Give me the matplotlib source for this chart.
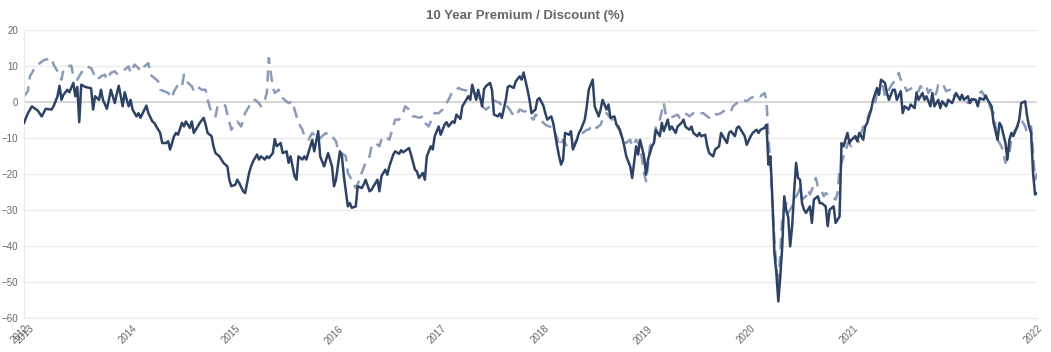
import numpy as np
import pandas as pd
import matplotlib
matplotlib.use("Agg")
import matplotlib.pyplot as plt
import matplotlib.dates as mdates

# weekly observations, counted in weeks from the first data point
start_date = "2012-12-14"

price_weeks = [
    0, 2, 4, 7, 9, 11, 14, 15, 17, 18, 19, 20, 22, 23, 25, 26, 27, 28, 29, 31,
    34, 35, 36, 38, 39, 40, 42, 43, 44, 46, 47, 48, 50, 51, 53, 54, 55, 57, 58, 59,
    61, 62, 63, 65, 66, 67, 69, 70, 72, 73, 74, 76, 77, 78, 80, 81, 82, 84, 85, 86,
    88, 89, 91, 92, 93, 95, 96, 97, 99, 100, 101, 103, 104, 105, 107, 108, 109, 111, 112, 114,
    115, 116, 118, 119, 120, 122, 123, 124, 126, 127, 128, 130, 131, 133, 134, 135, 137, 138, 139, 141,
    142, 143, 145, 146, 147, 149, 150, 152, 153, 154, 156, 157, 158, 160, 161, 162, 164, 165, 166, 168,
    169, 171, 172, 173, 175, 176, 177, 179, 180, 181, 183, 184, 185, 187, 188, 190, 191, 192, 194, 195,
    196, 198, 199, 200, 202, 203, 204, 206, 207, 208, 210, 211, 213, 214, 215, 217, 218, 219, 221, 222,
    223, 225, 226, 227, 229, 230, 232, 233, 234, 236, 237, 238, 240, 241, 242, 244, 245, 246, 248, 249,
    251, 252, 253, 255, 256, 257, 259, 260, 261, 263, 264, 265, 267, 268, 270, 271, 272, 273, 274, 276,
    277, 278, 280, 281, 282, 284, 285, 286, 288, 289, 291, 292, 293, 295, 296, 297, 299, 300, 301, 303,
    304, 305, 307, 308, 310, 311, 312, 314, 315, 316, 318, 319, 320, 322, 323, 324, 326, 327, 328, 330,
    331, 333, 334, 335, 337, 338, 339, 341, 342, 343, 345, 346, 347, 349, 350, 352, 353, 354, 356, 357,
    358, 360, 361, 362, 364, 365, 366, 368, 369, 371, 372, 373, 375, 376, 377, 378, 379, 380, 381, 382,
    383, 384, 385, 386, 387, 388, 389, 390, 391, 392, 393, 394, 395, 396, 398, 399, 400, 402, 403, 404,
    406, 407, 408, 410, 411, 413, 414, 415, 417, 418, 419, 421, 422, 423, 425, 426, 427, 429, 430, 432,
    433, 434, 436, 437, 438, 440, 441, 442, 444, 445, 446, 448, 449, 451, 452, 453, 455, 456, 457, 459,
    460, 461, 463, 464, 465, 467, 468, 470, 471, 472, 474, 475, 476, 478, 479, 480, 482, 483, 484, 486,
    487, 488, 490, 491, 493, 494, 495, 497, 498, 499, 500, 501, 503, 504, 505, 507, 508, 509, 510, 511,
    512, 513,
]
price_disc = [
    -5.8, -3.1, -1.2, -2.4, -4.0, -1.9, -2.1, -1.2, 1.6, 4.5, 0.6, 2.0, 3.4, 2.7, 5.3, 1.6, 4.2, -5.6, 4.8, 4.2,
    3.8, -2.1, 1.6, 0.6, 3.4, 0.6, -1.9, 0.6, 3.4, -0.3, 2.3, 4.5, -1.2, 2.7, -1.2, 0.6, -2.1, -4.0, -3.1, -4.4,
    -2.1, -1.0, -3.1, -5.4, -5.8, -6.8, -8.6, -11.4, -11.4, -10.9, -13.2, -9.5, -8.6, -9.1, -5.8, -6.8, -5.4, -7.2, -5.4, -8.6,
    -6.8, -5.8, -4.4, -6.3, -8.6, -9.5, -12.4, -14.2, -15.1, -16.0, -16.9, -17.9, -21.6, -23.4, -23.0, -21.6, -22.5, -24.8, -25.3, -19.7,
    -17.9, -16.5, -14.6, -16.0, -15.1, -16.0, -15.1, -15.6, -14.2, -10.3, -12.3, -11.4, -14.2, -13.7, -16.9, -15.1, -20.6, -21.6, -15.1, -16.0,
    -15.1, -16.0, -12.3, -10.5, -13.7, -8.1, -15.1, -17.9, -16.0, -14.2, -17.9, -23.4, -21.6, -13.7, -15.1, -20.6, -29.0, -28.1, -29.4, -29.0,
    -23.4, -23.9, -23.0, -21.6, -24.8, -24.4, -23.4, -21.6, -24.8, -20.6, -18.8, -20.2, -17.9, -14.6, -13.7, -14.4, -13.4, -14.0, -13.2, -12.8,
    -14.6, -18.8, -19.3, -21.1, -19.7, -21.6, -15.1, -12.3, -13.2, -9.5, -6.8, -9.1, -6.3, -5.6, -6.8, -5.4, -5.8, -3.5, -4.7, -1.2,
    -0.3, 1.6, 0.6, 4.8, 0.6, 3.4, -1.2, 3.6, 4.4, 5.3, 3.4, -3.5, -4.0, -3.2, -4.4, 0.6, 4.2, 4.5, 3.9, 5.7,
    7.1, 6.2, 8.2, 3.4, 0.6, -3.1, -2.1, 0.6, 1.1, -1.0, -3.1, -4.9, -4.0, -5.8, -12.3, -15.1, -17.4, -16.0, -8.6, -9.1,
    -8.1, -13.2, -10.5, -8.6, -7.7, -4.9, -1.2, 3.4, 6.2, -1.2, -4.0, -2.1, 0.6, -2.1, -0.7, -4.4, -4.0, -6.3, -6.8, -10.0,
    -12.3, -15.1, -17.9, -21.1, -12.3, -14.6, -10.5, -15.1, -20.2, -16.0, -12.3, -11.4, -7.7, -9.5, -5.8, -8.1, -4.9, -7.7, -6.8, -8.6,
    -6.8, -5.8, -4.9, -6.9, -7.7, -6.8, -8.6, -9.5, -8.6, -9.5, -9.1, -12.3, -14.2, -15.1, -13.2, -12.3, -8.6, -9.5, -11.4, -8.6,
    -8.1, -9.5, -7.2, -6.8, -8.6, -9.5, -11.9, -9.5, -8.6, -7.7, -8.6, -7.7, -7.2, -6.3, -17.4, -15.1, -27.1, -41.9, -47.5, -55.4,
    -48.4, -40.0, -26.2, -30.0, -32.0, -40.1, -34.5, -25.0, -16.9, -21.1, -21.6, -28.1, -29.9, -30.8, -29.0, -33.6, -27.1, -26.2, -28.1, -28.1,
    -29.0, -34.5, -29.9, -29.0, -33.6, -31.8, -11.4, -12.3, -8.6, -11.4, -10.5, -9.5, -10.9, -8.6, -10.5, -6.8, -5.8, -2.1, 0.6, 3.9,
    2.0, 6.2, 5.3, 2.5, 0.6, 3.4, 3.4, 0.6, 3.0, -3.1, -1.2, -2.1, -0.7, -1.7, 2.5, 0.6, 2.5, 0.6, 1.6, -1.2,
    2.5, -1.2, 0.6, -1.7, 0.2, -1.2, 0.6, -0.3, 1.1, 2.5, 0.6, 2.0, 0.6, 1.6, -0.3, 0.8, 0.6, -1.2, 1.1, 0.6,
    1.8, 0.6, -1.2, -5.8, -10.5, -5.8, -6.8, -11.4, -16.0, -10.5, -8.6, -9.5, -6.8, -4.9, -0.3, 0.2, -4.0, -6.8, -8.6, -19.7,
    -25.7, -25.3,
]

nav_weeks = [
    0, 2, 3, 5, 7, 8, 10, 12, 14, 15, 17, 19, 20, 22, 24, 25, 27, 29, 31, 32,
    34, 36, 37, 39, 41, 42, 44, 46, 47, 49, 51, 53, 54, 56, 58, 59, 61, 63, 64, 66,
    68, 69, 71, 73, 75, 76, 78, 80, 81, 83, 85, 86, 88, 90, 92, 93, 95, 97, 98, 100,
    102, 103, 105, 107, 108, 110, 112, 114, 115, 117, 119, 120, 122, 123, 124, 125, 126, 127, 129, 131,
    132, 134, 136, 137, 139, 141, 142, 144, 146, 147, 149, 151, 153, 154, 156, 158, 159, 161, 163, 164,
    166, 168, 170, 171, 173, 175, 176, 178, 180, 181, 183, 185, 186, 188, 190, 192, 193, 195, 197, 198,
    200, 202, 203, 205, 207, 208, 210, 212, 214, 215, 217, 219, 220, 222, 224, 225, 227, 229, 231, 232,
    234, 236, 237, 239, 241, 242, 244, 246, 247, 249, 251, 253, 254, 256, 258, 259, 261, 263, 264, 266,
    268, 270, 271, 273, 275, 276, 278, 280, 281, 283, 285, 286, 288, 290, 292, 293, 295, 297, 298, 300,
    302, 303, 305, 307, 308, 310, 312, 314, 315, 316, 317, 319, 320, 322, 324, 325, 327, 329, 331, 332,
    334, 336, 337, 339, 341, 342, 344, 346, 347, 349, 351, 353, 354, 356, 358, 359, 361, 363, 364, 366,
    368, 370, 371, 373, 375, 376, 377, 378, 379, 380, 381, 382, 383, 384, 385, 386, 387, 389, 390, 392,
    393, 394, 396, 397, 398, 400, 401, 402, 404, 405, 406, 408, 409, 411, 412, 413, 415, 416, 417, 419,
    420, 421, 423, 424, 425, 427, 428, 430, 431, 432, 434, 435, 436, 438, 439, 440, 442, 443, 444, 446,
    447, 448, 450, 451, 453, 454, 455, 457, 458, 459, 461, 462, 463, 465, 466, 467, 469, 470, 472, 473,
    474, 476, 477, 478, 480, 481, 482, 484, 485, 486, 488, 489, 491, 492, 493, 495, 496, 497, 499, 500,
    501, 503, 504, 505, 507, 508, 510, 511, 512, 513,
]
nav_disc = [
    1.6, 3.0, 7.1, 9.0, 9.9, 10.8, 11.6, 11.9, 12.2, 10.4, 8.5, 6.2, 9.0, 9.9, 10.1, 7.1, 6.2, 8.1, 9.4, 9.9,
    9.4, 7.1, 6.2, 7.1, 7.6, 6.2, 8.1, 8.5, 7.9, 8.1, 9.0, 9.9, 8.1, 10.4, 9.4, 8.5, 9.9, 10.8, 7.6, 6.7,
    5.7, 3.4, 3.0, 2.5, 1.1, 3.0, 4.8, 4.2, 7.6, 5.3, 4.4, 3.0, 4.2, 3.4, 3.4, 0.6, -3.1, -4.0, -1.2, -0.7,
    -1.0, -3.5, -7.7, -5.8, -5.4, -6.8, -3.1, -1.2, 0.2, 0.6, -0.3, -1.2, 0.6, 2.5, 12.2, 8.0, 4.0, 2.5, 3.4, 1.1,
    0.6, -0.3, 0.2, -2.1, -5.8, -7.7, -9.5, -10.5, -8.6, -9.1, -10.5, -9.5, -8.6, -9.5, -9.5, -10.9, -13.2, -14.2, -15.1, -19.7,
    -21.6, -23.9, -21.6, -19.7, -16.9, -15.1, -12.3, -11.4, -12.3, -10.5, -9.5, -10.5, -8.6, -4.9, -4.9, -3.1, -1.2, -2.1, -4.0, -4.0,
    -4.4, -4.0, -5.8, -6.8, -4.0, -3.1, -3.1, -2.1, -0.3, 0.6, 3.0, 3.4, 3.9, 3.4, 3.2, 2.5, 3.4, 1.6, -0.3, -1.2,
    -2.1, -1.2, 0.6, 0.2, -0.3, -1.2, -0.7, -2.1, -3.1, -4.0, -2.1, -2.6, -2.6, -4.0, -4.9, -3.5, -4.4, -5.8, -6.3, -6.8,
    -7.2, -10.0, -12.3, -10.5, -12.3, -13.2, -12.3, -10.5, -9.1, -8.6, -7.7, -7.7, -6.3, -7.2, -6.3, -4.9, -3.1, -4.4, -4.9, -6.8,
    -7.7, -10.5, -11.4, -10.5, -12.3, -10.5, -12.3, -19.7, -22.0, -17.9, -12.3, -10.5, -6.8, -4.9, -0.3, -3.5, -4.4, -4.0, -3.5, -4.4,
    -3.1, -3.5, -4.0, -3.1, -3.5, -3.1, -3.1, -4.0, -4.4, -3.1, -3.5, -3.1, -2.6, -2.1, -2.6, -1.2, -0.3, 0.2, 0.6, 0.2,
    1.1, 1.6, 2.0, 1.6, 2.5, 0.6, -10.5, -16.0, -29.0, -38.2, -45.6, -51.2, -41.9, -31.8, -29.9, -28.1, -30.8, -29.0, -27.1, -25.3,
    -23.9, -27.1, -26.2, -24.4, -25.7, -23.0, -21.1, -23.4, -24.8, -26.2, -25.3, -26.2, -26.2, -27.1, -25.3, -18.8, -15.1, -14.2, -11.4, -12.3,
    -10.9, -9.5, -11.4, -8.6, -6.8, -4.9, -3.1, -1.2, -0.3, 2.5, 3.4, 4.4, 1.6, 3.4, 4.4, 5.3, 6.2, 8.1, 6.2, 4.4,
    3.0, 3.4, 3.9, 2.5, 3.0, 4.4, 3.4, 4.2, 2.5, 3.4, 1.6, 2.5, 4.8, 5.3, 4.2, 3.0, 3.4, 1.6, 2.0, 1.6,
    1.1, 1.6, 0.6, -0.3, 0.6, 0.6, 1.1, 2.5, 3.0, 2.0, 0.6, -1.2, -3.1, -6.8, -10.5, -12.3, -14.2, -16.9, -14.2, -10.5,
    -8.6, -6.8, -5.8, -4.9, -6.8, -8.6, -6.8, -14.2, -21.6, -19.7,
]

title = "10 Year Premium / Discount (%)"
year_labels = list(range(2013, 2022))

price_dates = pd.Timestamp(start_date) + pd.to_timedelta(np.array(price_weeks) * 7, unit="D")
nav_dates = pd.Timestamp(start_date) + pd.to_timedelta(np.array(nav_weeks) * 7, unit="D")

plt.rcParams["font.family"] = ["Liberation Sans", "DejaVu Sans"]

fig = plt.figure(figsize=(10.51, 3.52), dpi=100)
ax = fig.add_axes([0.0228, 0.0966, 0.9639, 0.8182])

ax.plot(nav_dates, nav_disc, color="#8a9ab8", lw=1.8, dashes=(4.5, 2.8), zorder=2)
ax.plot(price_dates, price_disc, color="#2d4265", lw=1.8, zorder=3)

x_min, x_max = price_dates[0], price_dates[-1]
ax.set_xlim(x_min, x_max)
ax.set_ylim(-60, 20)
ax.set_yticks(np.arange(-60, 21, 10))

tick_dates = [x_min] + [pd.Timestamp(f"{y}-01-01") for y in year_labels] + [x_max]
tick_text = [str(x_min.year)] + [str(y) for y in year_labels] + [str(x_max.year)]
ax.set_xticks(mdates.date2num(tick_dates))
ax.set_xticklabels(tick_text, rotation=45, ha="right", rotation_mode="anchor")

ax.tick_params(axis="both", length=0, labelsize=7, colors="#666666")
ax.tick_params(axis="y", pad=4)
ax.tick_params(axis="x", pad=4)

ax.grid(axis="y", color="#ebebeb", lw=1)
ax.axhline(0, color="#d4d4d4", lw=1.3, zorder=1)
ax.set_axisbelow(True)
for side in ["top", "right"]:
    ax.spines[side].set_visible(False)
ax.spines["left"].set_color("#ebebeb")
ax.spines["bottom"].set_color("#ebebeb")

fig.text(0.5, 0.955, title, ha="center", va="center", fontsize=9.5, fontweight="bold", color="#666666")

fig.savefig("out.png", dpi=100)
